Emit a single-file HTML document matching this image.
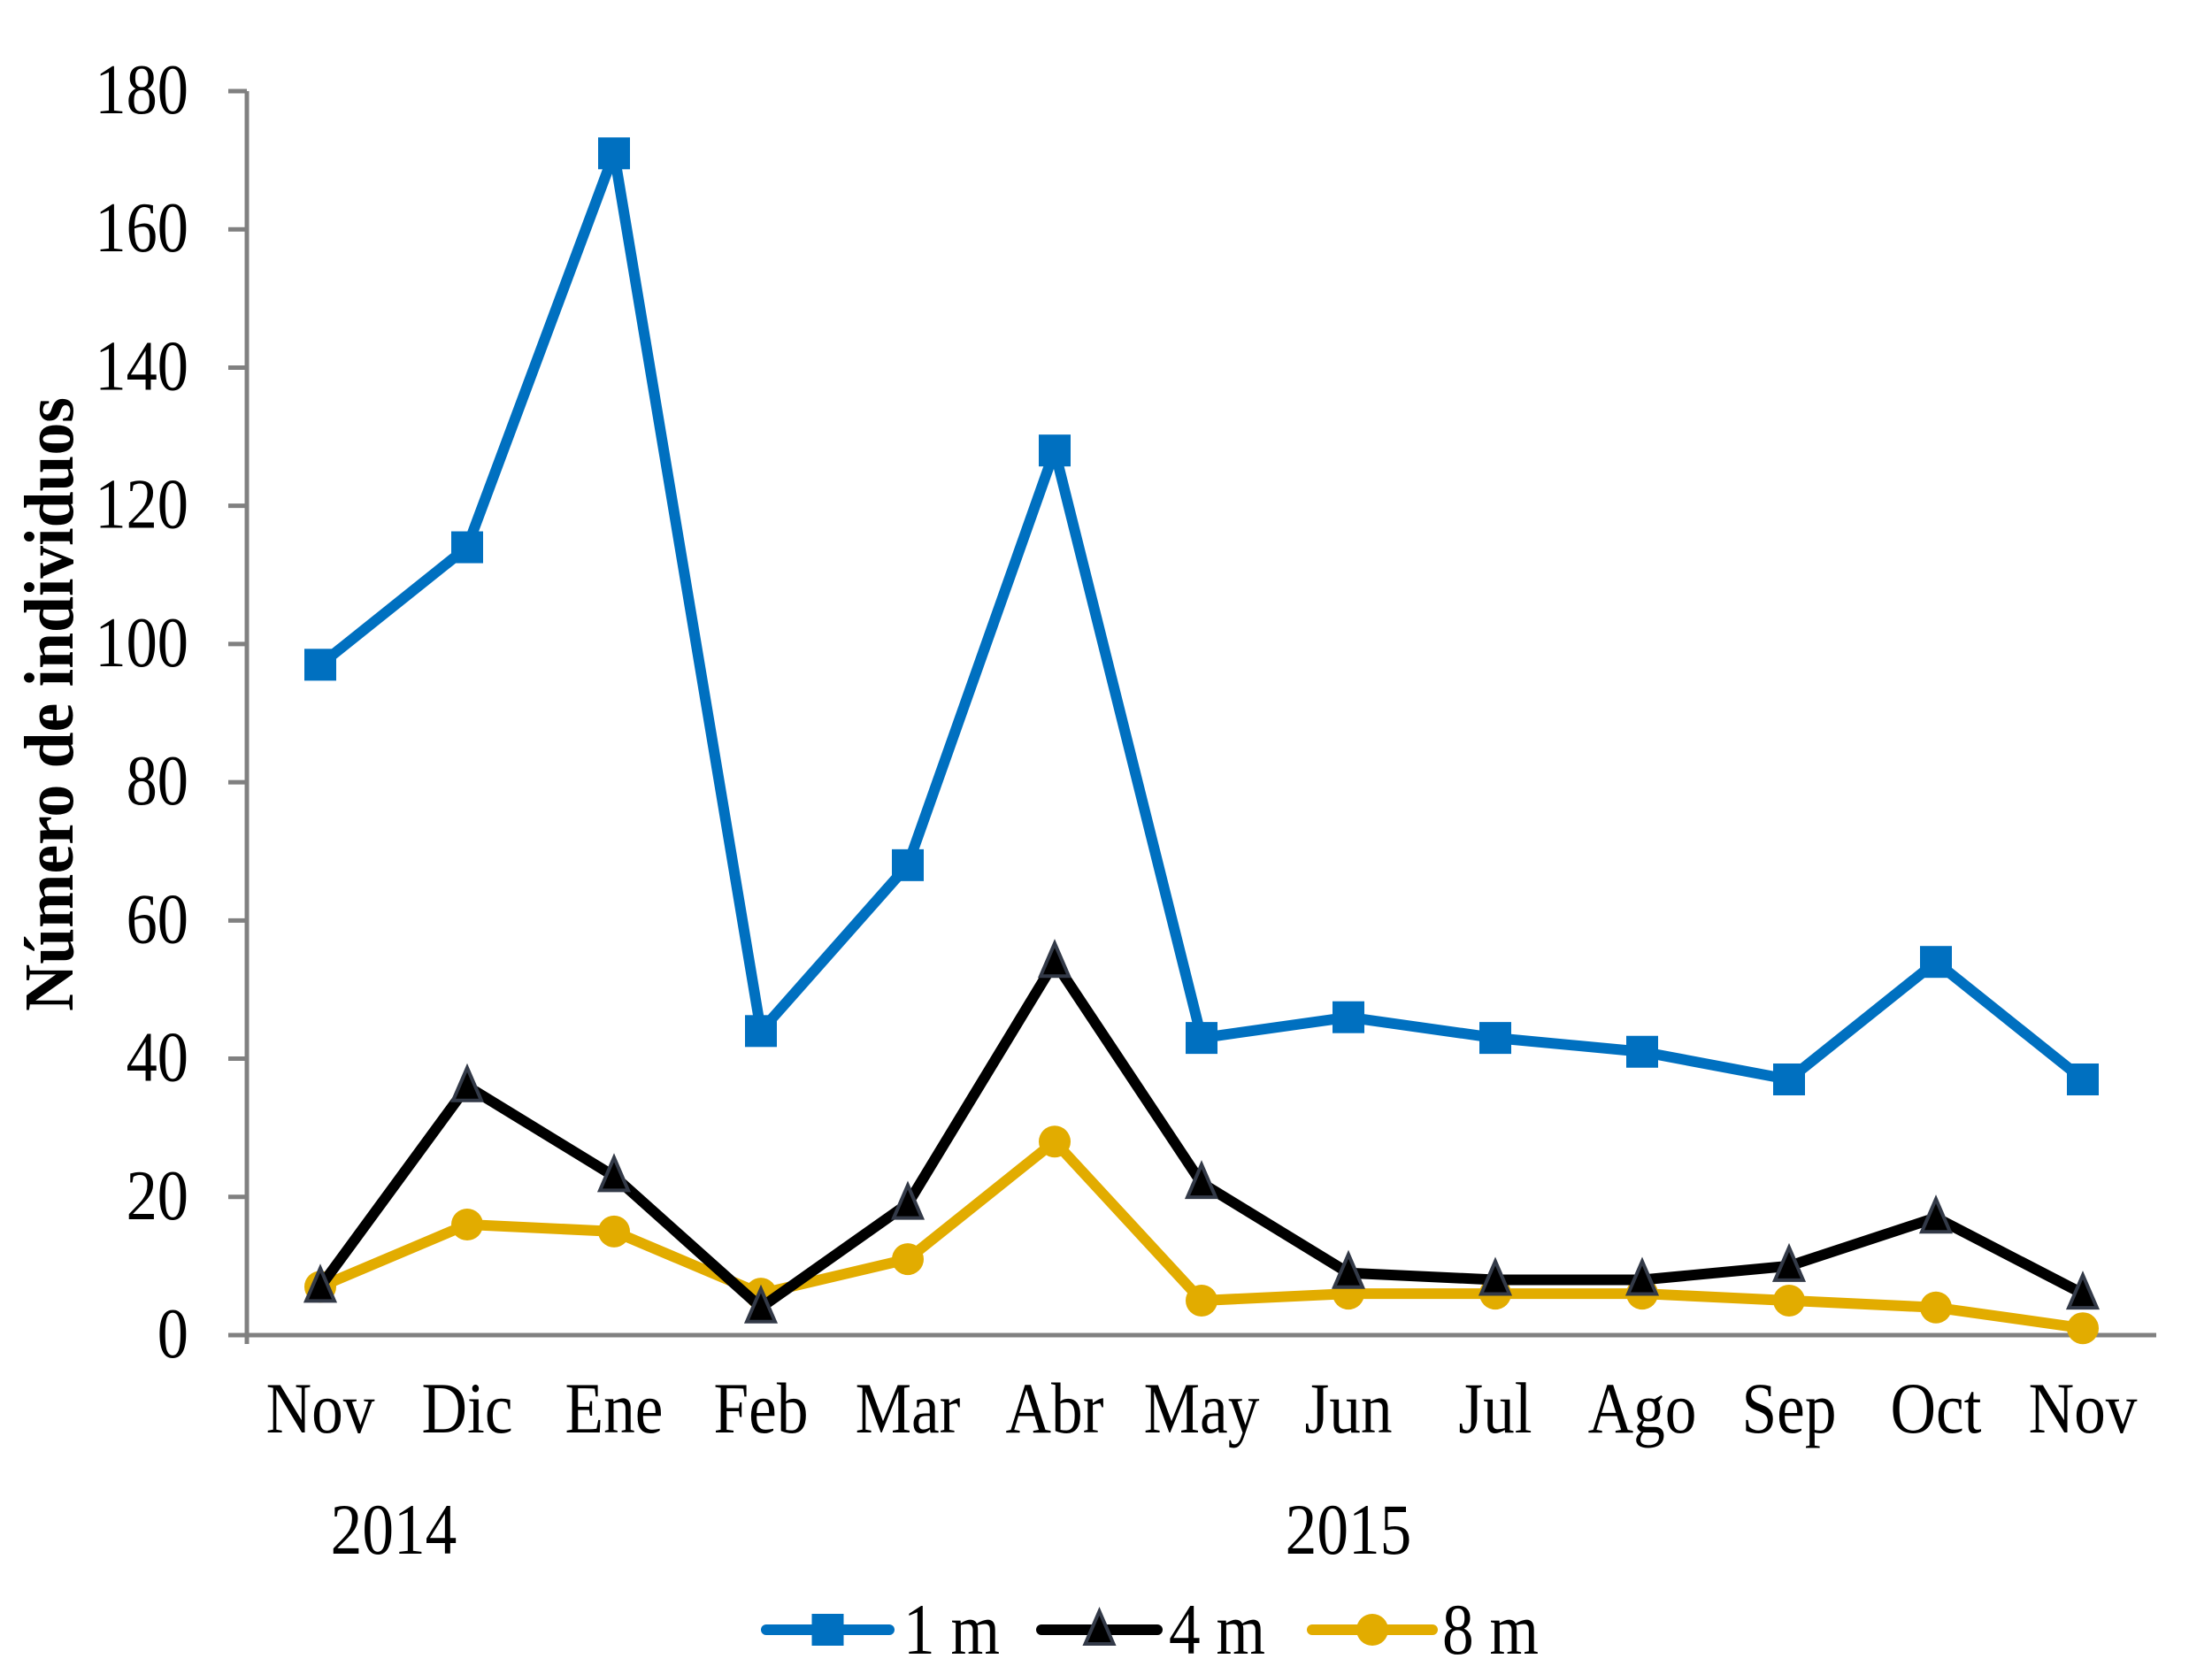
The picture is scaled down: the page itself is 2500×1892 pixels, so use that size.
<!DOCTYPE html>
<html><head><meta charset="utf-8"><style>
html,body{margin:0;padding:0;background:#fff;}
svg text{font-family:"Liberation Serif",serif;fill:#000;}
</style></head><body>
<svg width="2500" height="1887" viewBox="0 0 2500 1887" xmlns="http://www.w3.org/2000/svg">
<g id="axes"></g><g id="series"></g><g id="legend"></g>
</svg>
<script>
const categories=["Nov","Dic","Ene","Feb","Mar","Abr","May","Jun","Jul","Ago","Sep","Oct","Nov"];
const s1m=[97,114,171,44,68,128,43,46,43,41,37,54,37];
const s4m=[7,36,23,4,19,54,22,9,8,8,10,17,6];
const s8m=[7,16,15,6,11,28,5,6,6,6,5,4,1];
const yTicks=[0,20,40,60,80,100,120,140,160,180];
const NS="http://www.w3.org/2000/svg";
const X0=362,DX=166,Y0=1509,Y180=103;
const xs=i=>X0+i*DX;
const ys=v=>Y0-(v/180)*(Y0-Y180);
function mk(tag,attrs,parent,txt){const e=document.createElementNS(NS,tag);for(const k in attrs)e.setAttribute(k,attrs[k]);if(txt!==undefined)e.textContent=txt;parent.appendChild(e);return e;}
const ax=document.getElementById('axes');
let e=mk('line',{x1:279,y1:Y180,x2:279,y2:Y0,stroke:'#808080','stroke-width':5},ax);


e=mk('line',{x1:258,y1:Y0,x2:2437,y2:Y0,stroke:'#808080','stroke-width':5},ax);


mk('line',{x1:279,y1:Y0,x2:279,y2:Y0+10,stroke:'#808080','stroke-width':5},ax);
yTicks.forEach(v=>{
 const y=ys(v);
 mk('line',{x1:258,y1:y,x2:279,y2:y,stroke:'#808080','stroke-width':5},ax);
 const t=mk('text',{x:213,y:y+25,'text-anchor':'end','font-size':80,transform:`translate(213 0) scale(0.88 1) translate(-213 0)`},ax,String(v));
 
 
});
categories.forEach((c,i)=>{
 const x=xs(i);
 const t=mk('text',{x:x,y:1619,'text-anchor':'middle','font-size':82,transform:`translate(${x} 0) scale(0.87 1) translate(${-x} 0)`},ax,c);
 
 
});
[["2014",445],["2015",1524]].forEach(([s,x])=>{
 const t=mk('text',{x:x,y:1756,'text-anchor':'middle','font-size':82,transform:`translate(${x} 0) scale(0.87 1) translate(${-x} 0)`},ax,s);
 
 
});
e=mk('text',{x:0,y:0,'text-anchor':'middle','font-size':80,'font-weight':'bold',transform:'translate(82 796) rotate(-90) scale(0.92 1)'},ax,'Número de individuos');



const sg=document.getElementById('series');
function marker(type,x,y,color,parent){
 if(type==='sq') return mk('rect',{x:x-18,y:y-18,width:36,height:36,fill:color},parent);
 if(type==='tri') return mk('polygon',{points:`${x},${y-21} ${x-16},${y+16} ${x+16},${y+16}`,fill:'#000',stroke:'#333a48','stroke-width':4},parent);
 return mk('circle',{cx:x,cy:y,r:18,fill:color},parent);
}
function drawSeries(vals,color,type,name){
 const g=mk('g',{},sg);
 
 
 const p=vals.map((v,i)=>`${xs(i)},${ys(v)}`).join(' ');
 mk('polyline',{points:p,fill:'none',stroke:color,'stroke-width':12,'stroke-linejoin':'round','stroke-linecap':'round'},g);
 vals.forEach((v,i)=>{const m=marker(type,xs(i),ys(v),color,g);
  
  });
}
drawSeries(s8m,'#E2AC00','circ','series-8m');
drawSeries(s4m,'#000000','tri','series-4m');
drawSeries(s1m,'#0070C0','sq','series-1m');

const lg=document.getElementById('legend');
[['1 m','#0070C0','sq',866,1005,1021],['4 m','#000000','tri',1177,1308,1321],['8 m','#E2AC00','circ',1483,1619,1630]].forEach(([lab,c,t,x1,x2,tx])=>{
 const g=mk('g',{},lg);
 
 
 mk('line',{x1:x1,y1:1842,x2:x2,y2:1842,stroke:c,'stroke-width':12,'stroke-linecap':'round'},g);
 marker(t,(x1+x2)/2,1842,c,g);
 mk('text',{x:tx,y:1869,'font-size':82,transform:`translate(${tx} 0) scale(0.87 1) translate(${-tx} 0)`},g,lab);
});
</script>
</body></html>
